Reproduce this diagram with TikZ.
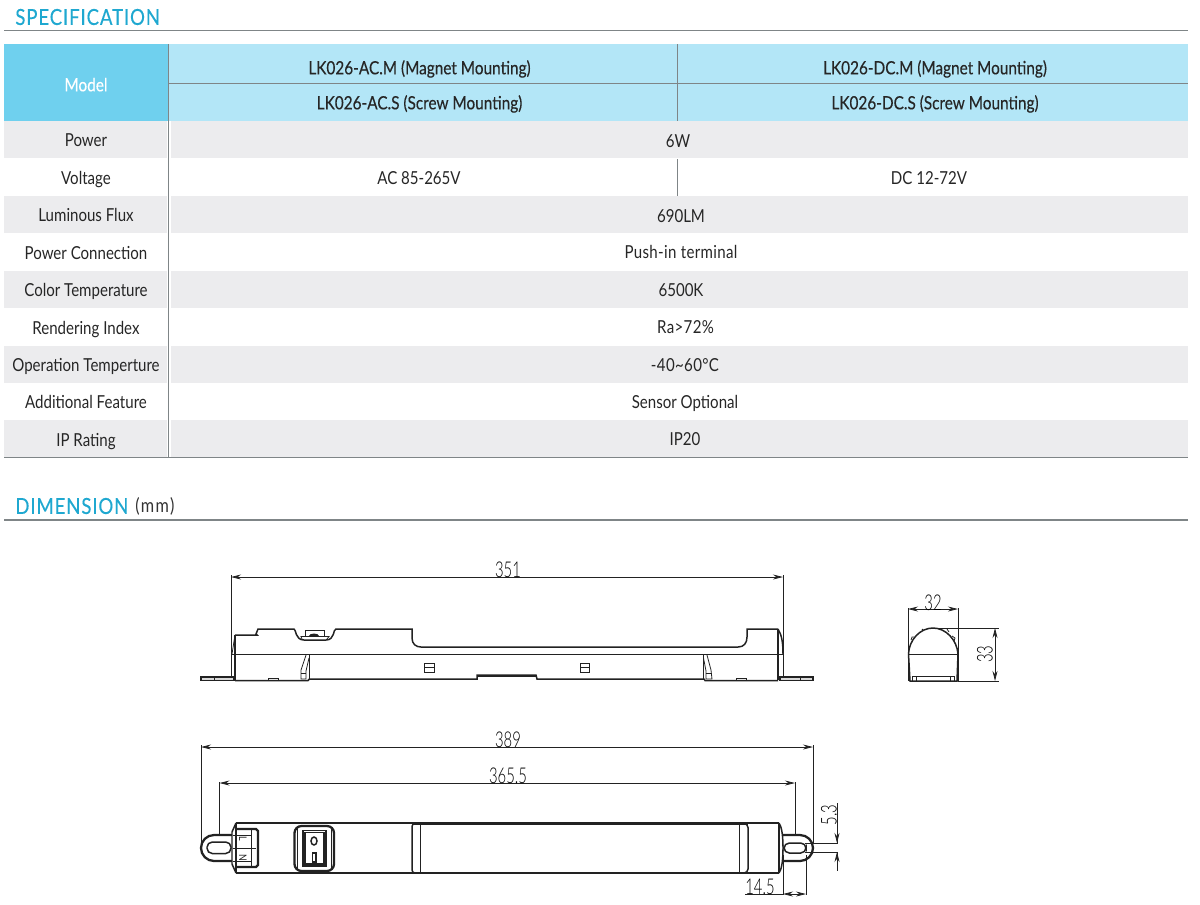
\documentclass[tikz,border=0pt]{standalone}
\usepackage{fontspec}
\usetikzlibrary{arrows.meta}
\setmainfont[FakeStretch=0.84]{Lato}
\newfontfamily\dimfont[FakeStretch=0.68]{Lato Light}
\definecolor{headblue}{HTML}{1FA8D0}
\definecolor{modelblue}{HTML}{6FD0EE}
\definecolor{paleblue}{HTML}{B3E6F7}
\definecolor{rowgray}{HTML}{ECECEE}
\definecolor{rulegray}{HTML}{7F8587}
\definecolor{inkgray}{HTML}{222222}
\tikzset{
  celltext/.style={inner sep=0pt,text height=9.4pt,text depth=2.2pt,text=black!85,font=\fontsize{10.2}{12}\selectfont},
  toptext/.style={celltext,font=\fontsize{10.4}{12}\selectfont\addfontfeatures{FakeBold=0.25}},
  headtext/.style={inner sep=0pt,anchor=west,text=headblue,font=\fontsize{12.6}{14}\selectfont\addfontfeatures{LetterSpace=4,FakeBold=0.25}},
  dimtext/.style={inner sep=0pt,text=black,font=\dimfont\fontsize{12.4}{14}\selectfont},
  thinline/.style={inkgray,line width=0.45pt},
  bodyline/.style={inkgray,line width=0.85pt},
  heavyline/.style={inkgray,line width=1.3pt},
  dimline/.style={inkgray,line width=0.45pt,{Stealth[length=2mm,width=1mm]}-{Stealth[length=2mm,width=1mm]}},
  tipline/.style={inkgray,line width=0.45pt,-{Stealth[length=2mm,width=1mm]}},
  rulerline/.style={rulegray,line width=0.6pt}
}
\begin{document}
\begin{tikzpicture}[x=0.02cm,y=0.02cm]
\useasboundingbox (0,0) rectangle (1200,-904);
% table fills
\fill [modelblue] (4,-44) rectangle (168,-121);
\fill [paleblue] (169,-44) rectangle (1188,-121);
\fill [rowgray] (4,-121) rectangle (167,-158);
\fill [rowgray] (171,-121) rectangle (1188,-158);
\fill [rowgray] (4,-196) rectangle (167,-233);
\fill [rowgray] (171,-196) rectangle (1188,-233);
\fill [rowgray] (4,-271) rectangle (167,-308);
\fill [rowgray] (171,-271) rectangle (1188,-308);
\fill [rowgray] (4,-346) rectangle (167,-383);
\fill [rowgray] (171,-346) rectangle (1188,-383);
\fill [rowgray] (4,-420) rectangle (167,-457);
\fill [rowgray] (171,-420) rectangle (1188,-457);
% rules
\draw [rulerline] (4,-30.5) -- (1188,-30.5);
\draw [rulerline] (4,-520) -- (1188,-520);
\draw [rulerline] (4,-457.5) -- (1188,-457.5);
\draw [rulerline] (168.5,-44) -- (168.5,-457);
\draw [rulerline] (169,-83.5) -- (1188,-83.5);
\draw [rulerline] (677.5,-44) -- (677.5,-121);
\draw [rulerline] (677.5,-159) -- (677.5,-196);
% headings
\node [headtext] (spechead) at (15,-17) {SPECIFICATION};
\node [headtext] (dimhead) at (15,-506) {DIMENSION};
\node [inner sep=0pt,anchor=west,text=black!80,font=\fontsize{11}{12}\selectfont\addfontfeatures{LetterSpace=7}] (dimunit) at (135,-506) {(mm)};
% first column
\node [toptext,text=white] (model) at (86,-85) {Model};
\node [celltext] (power) at (86,-140) {Power};
\node [celltext] (voltage) at (86,-178) {Voltage};
\node [celltext] (flux) at (86,-215) {Luminous Flux};
\node [celltext] (connection) at (86,-253) {Power Connection};
\node [celltext] (colortemp) at (86,-290) {Color Temperature};
\node [celltext] (rendering) at (86,-328) {Rendering Index};
\node [celltext] (operation) at (86,-365) {Operation Temperture};
\node [celltext] (feature) at (86,-402) {Additional Feature};
\node [celltext] (iprating) at (86,-440) {IP Rating};
% values
\node [toptext] (acm) at (419.5,-68) {LK026-AC.M (Magnet Mounting)};
\node [toptext] (dcm) at (935,-68) {LK026-DC.M (Magnet Mounting)};
\node [toptext] (acs) at (419.5,-103) {LK026-AC.S (Screw Mounting)};
\node [toptext] (dcs) at (935,-103) {LK026-DC.S (Screw Mounting)};
\node [celltext] (powerval) at (678,-141) {6W};
\node [celltext] (acval) at (419,-178) {AC 85-265V};
\node [celltext] (dcval) at (929,-178) {DC 12-72V};
\node [celltext] (fluxval) at (681,-216) {690LM};
\node [celltext,font=\fontsize{10.2}{12}\selectfont\addfontfeatures{LetterSpace=2}] (connval) at (681,-252) {Push-in terminal};
\node [celltext] (tempval) at (681,-290) {6500K};
\node [celltext,font=\fontsize{10.2}{12}\selectfont\addfontfeatures{LetterSpace=2}] (raval) at (685.5,-327) {Ra>72\%};
\node [celltext,font=\fontsize{10.2}{12}\selectfont\addfontfeatures{LetterSpace=2}] (opval) at (685,-365) {-40\textasciitilde60\textdegree C};
\node [celltext] (featval) at (685,-402) {Sensor Optional};
\node [celltext] (ipval) at (685,-439) {IP20};
% side view
\draw [bodyline] (235,-635) -- (257,-635) arc (0:90:1) -- (258,-629) -- (294,-629) .. controls (296,-629) and (295,-640) .. (304,-640) -- (326,-640) .. controls (335,-640) and (333,-629) .. (336,-629) -- (412,-629) -- (412,-638) .. controls (412,-644) and (416,-647) .. (421,-647) -- (738,-647) .. controls (744,-647) and (747,-643) .. (747,-637) -- (747,-629) -- (778,-629);
\draw [bodyline] (778,-629) .. controls (781,-634) and (783,-640) .. (783,-654);
\draw [thinline] (232,-654) -- (783,-654);
\draw [thinline] (235,-635) -- (232,-654);
\draw [heavyline] (235,-635) -- (235,-680);
\draw [heavyline] (778,-630) -- (778,-680);
\draw [bodyline] (235,-680.5) -- (308,-680.5) -- (309.5,-679) -- (477,-679) -- (477,-675) -- (536,-675) -- (537,-679) -- (704,-679) -- (705,-680.5) -- (778,-680.5);
\draw [thinline] (477,-676.5) -- (536,-676.5);
\draw [thinline] (309.5,-654) -- (309.5,-679);
\draw [thinline] (703.5,-654) -- (703.5,-679);
\draw [thinline] (306,-655) -- (301,-670) -- (301,-679) -- (306,-679) -- (306,-671) -- (309,-658);
\draw [thinline] (301,-673) -- (306,-673);
\draw [thinline] (707,-655) -- (711,-670) -- (712,-679) -- (706,-679) -- (706,-671) -- (703.5,-658);
\draw [thinline] (706,-673) -- (712,-673);
\draw [thinline] (304,-636) -- (325,-636);
\draw [thinline] (305,-636) -- (305,-630) -- (324,-630) -- (324,-636);
\fill [inkgray] (309,-636) arc (180:0:5 and 2.5) -- cycle;
\draw [thinline] (302,-639) -- (301,-636.5) -- (329,-636.5) -- (327,-639);
\draw [thinline] (424.5,-663.5) rectangle (434,-672);
\draw [thinline] (424.5,-667.5) -- (434,-667.5);
\draw [thinline] (580,-663.5) rectangle (589.5,-672);
\draw [thinline] (580,-667.5) -- (589.5,-667.5);
\draw [thinline] (268,-678.5) rectangle (278,-680);
\draw [thinline] (736,-678.5) rectangle (746,-680);
\draw [bodyline,fill=black!15] (201,-677) rectangle (234,-680.5);
\draw [bodyline,fill=black!15] (780,-677) rectangle (813,-680.5);
\draw [thinline] (214,-677) -- (214,-680.5);
\draw [thinline] (800,-677) -- (800,-680.5);
% side view width
\coordinate (sidel) at (231,-577);
\coordinate (sider) at (783,-577);
\draw [dimline] (sidel) -- (sider);
\draw [thinline] (231,-575) -- (231,-678);
\draw [thinline] (783,-575) -- (783,-676);
\node [dimtext] (d351) at (508,-570) {351};
% end view
\draw [bodyline] (908.5,-654) .. controls (909,-640) and (920,-628) .. (933,-628) .. controls (946,-628) and (957,-640) .. (958,-654);
\draw [thinline] (908.5,-654) -- (958,-654);
\draw [bodyline] (908.5,-654) -- (910,-681) -- (957,-681) -- (958,-654);
\draw [thinline] (912,-676) rectangle (954,-681);
\draw [thinline] (916,-676) -- (916,-681);
\draw [thinline] (950,-676) -- (950,-681);
\draw [thinline] (911,-640) -- (912,-637) -- (914,-637);
\draw [thinline] (922,-630) -- (923,-629);
\draw [thinline] (947,-629) -- (949,-632);
\draw [thinline] (952,-636) -- (955,-638) -- (954,-641);
\coordinate (endl) at (908,-609);
\coordinate (endr) at (958,-609);
\coordinate (endt) at (995,-628);
\coordinate (endb) at (995,-681);
\draw [dimline] (endl) -- (endr);
\draw [dimline] (endt) -- (endb);
\draw [thinline] (908,-608) -- (908,-681);
\draw [thinline] (958,-608) -- (958,-681);
\draw [thinline] (931,-628) -- (999,-628);
\draw [thinline] (958,-681) -- (999,-681);
\node [dimtext] (d32) at (933,-603) {32};
\node [dimtext,rotate=90] (d33) at (985,-654) {33};
% top view
\draw [heavyline] (412,-823.5) -- (748,-823.5);
\draw [heavyline] (412,-873) -- (748,-873);
\draw [bodyline] (236,-823) -- (779,-823);
\draw [bodyline] (236,-873) -- (779,-873);
\draw [bodyline] (415,-823.5) arc (90:180:3) -- (412,-870) arc (180:270:3);
\draw [thinline] (420,-823.5) -- (420,-873);
\draw [bodyline] (744,-823.5) arc (90:0:4) -- (748,-869) arc (0:-90:4);
\draw [thinline] (739,-823.5) -- (739,-873);
\draw [bodyline] (779,-823) .. controls (781,-826) and (783,-832) .. (783,-848) .. controls (783,-864) and (781,-870) .. (779,-873);
\draw [bodyline] (779,-823) -- (779,-873);
\draw [bodyline] (236,-823) -- (232,-832) -- (232,-864) -- (236,-873);
\draw [bodyline] (236,-823) -- (236,-873);
\draw [heavyline] (236,-829) -- (256,-829) -- (258,-831) -- (258,-865) -- (256,-867) -- (236,-867);
\draw [thinline] (251,-829) -- (251,-867);
\draw [thinline] (233,-848) -- (256,-848);
\draw [thinline] (233,-835) -- (251,-835);
\draw [thinline] (233,-861) -- (251,-861);
\node [inner sep=0pt,rotate=-90,text=inkgray,font=\fontsize{6}{7}\selectfont] (lterm) at (243,-839) {L};
\node [inner sep=0pt,rotate=-90,text=inkgray,font=\fontsize{6}{7}\selectfont] (nterm) at (243,-858) {N};
\draw [heavyline] (232,-835) -- (214,-835) arc (90:270:13) -- (232,-861);
\draw [bodyline,rounded corners=3pt] (207,-842) rectangle (231,-853.5);
\draw [heavyline,rounded corners=4pt] (294.5,-826) rectangle (334,-871);
\draw [thinline] (297,-828) -- (297,-869);
\draw [thinline] (331.5,-828) -- (331.5,-869);
\draw [bodyline] (303,-830.5) rectangle (326,-866);
\draw [bodyline] (305,-832.5) rectangle (324,-864);
\draw [bodyline] (314,-841) ellipse (3 and 4);
\draw [bodyline] (312.5,-853) rectangle (316,-862);
\draw [heavyline] (783,-835) -- (800,-835) arc (90:-90:13) -- (783,-861);
\draw [bodyline,rounded corners=3pt] (784,-843) rectangle (806,-853);
\draw [thinline] (783,-855) -- (783,-895);
\draw [thinline] (806,-855) -- (806,-895);
% top view lengths
\coordinate (fulll) at (201,-747);
\coordinate (fullr) at (813,-747);
\coordinate (slotl) at (219.5,-783);
\coordinate (slotr) at (795,-783);
\draw [dimline] (fulll) -- (fullr);
\draw [dimline] (slotl) -- (slotr);
\draw [thinline] (201,-745) -- (201,-848);
\draw [thinline] (813,-745) -- (813,-843);
\draw [thinline] (219.5,-782) -- (219.5,-835);
\draw [thinline] (795,-782) -- (795,-835);
\node [dimtext] (d389) at (508,-740) {389};
\node [dimtext] (d3655) at (508,-776) {365.5};
% lug sizes
\coordinate (lugm) at (794.5,-894);
\coordinate (lugl) at (783,-894);
\coordinate (lugr) at (806,-894);
\coordinate (lugo) at (745,-894);
\draw [thinline] (lugo) -- (lugl);
\draw [tipline] (lugm) -- (lugl);
\draw [tipline] (lugm) -- (lugr);
\node [dimtext] (d145) at (760,-887) {14.5};
\coordinate (slott) at (837,-843);
\coordinate (slotb) at (837,-852);
\coordinate (slotu) at (837,-803);
\coordinate (slotd) at (837,-871);
\draw [thinline] (805,-843) -- (838,-843);
\draw [thinline] (805,-852) -- (838,-852);
\draw [thinline] (slotu) -- (slott);
\draw [thinline] (slotb) -- (slotd);
\coordinate (slotua) at (837,-833);
\coordinate (slotda) at (837,-862);
\draw [tipline] (slotua) -- (slott);
\draw [tipline] (slotda) -- (slotb);
\node [dimtext,rotate=90] (d53) at (829,-815) {5.3};
\end{tikzpicture}
\end{document}
